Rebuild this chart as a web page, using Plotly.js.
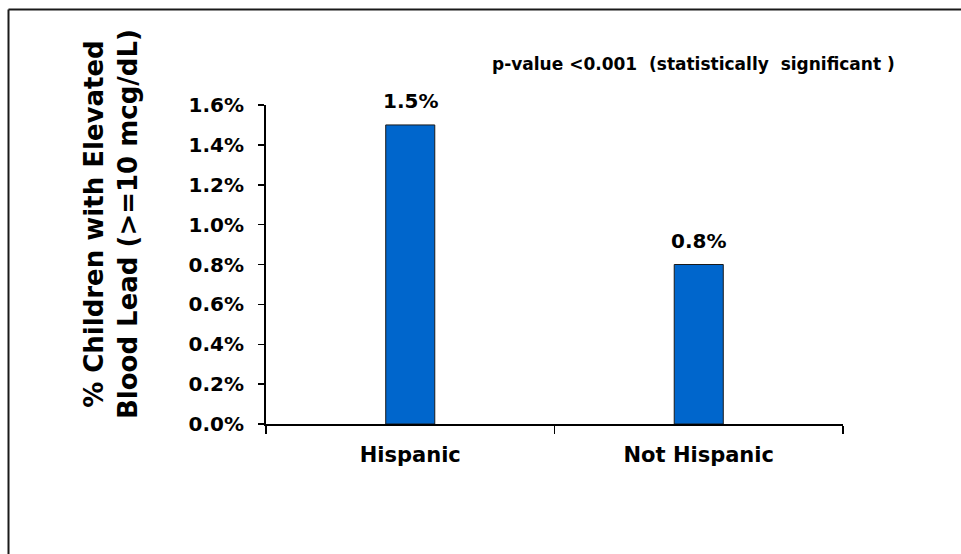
<!DOCTYPE html>
<html>
<head>
<meta charset="utf-8">
<script src="https://cdn.plot.ly/plotly-3.0.1.min.js"></script>
<style>
  html, body { margin: 0; padding: 0; background: #ffffff; }
  #chart { width: 961px; height: 554px; }
</style>
</head>
<body>
<div id="chart"></div>
<script>
// Blood lead results by ethnicity
const categories = ['Hispanic', 'Not Hispanic'];
const pctElevated = [1.5, 0.8];
const yTickVals = [0, 0.2, 0.4, 0.6, 0.8, 1.0, 1.2, 1.4, 1.6];
const yTickText = ['0.0%', '0.2%', '0.4%', '0.6%', '0.8%', '1.0%', '1.2%', '1.4%', '1.6%'];
const yTitleLines = ['% Children with Elevated', 'Blood Lead (&gt;=10 mcg/dL)'];
const noteText = 'p-value &lt;0.001  (statistically  significant )';

const W = 961, H = 554;
const M = { l: 266, r: 118, t: 105, b: 130 };
const plotW = W - M.l - M.r;
const plotH = H - M.t - M.b;
// pixel position -> paper coordinates
const px = x => (x - M.l) / plotW;
const py = y => (H - M.b - y) / plotH;

const FONT = 'DejaVu Sans, Arial, sans-serif';

const bars = {
  type: 'bar',
  x: categories,
  y: pctElevated,
  marker: { color: '#0066CC', line: { color: '#1a1a1a', width: 1 } },
  hoverinfo: 'x+y'
};

const valueLabels = categories.map((c, i) => ({
  xref: 'x', yref: 'y',
  x: c, y: pctElevated[i],
  text: pctElevated[i].toFixed(1) + '%',
  showarrow: false,
  xanchor: 'center', yanchor: 'bottom',
  yshift: 10,
  font: { family: FONT, size: 20, weight: 'bold', color: '#000' }
}));

const annotations = valueLabels.concat([
  {
    xref: 'paper', yref: 'paper',
    x: px(111), y: py(224),
    text: yTitleLines.join('<br>'),
    textangle: -90,
    showarrow: false,
    xanchor: 'center', yanchor: 'middle',
    font: { family: FONT, size: 26, weight: 'bold', color: '#000' }
  },
  {
    xref: 'paper', yref: 'paper',
    x: px(693), y: py(64),
    text: noteText,
    showarrow: false,
    xanchor: 'center', yanchor: 'middle',
    font: { family: FONT, size: 17, weight: 'bold', color: '#000' }
  }
]);

// frame around the figure: only its left and top edges fall inside the page
const frameLine = { color: '#1a1a1a', width: 2 };

const layout = {
  width: W, height: H,
  margin: M,
  paper_bgcolor: '#ffffff',
  plot_bgcolor: '#ffffff',
  showlegend: false,
  bargap: 0.83,
  font: { family: FONT, color: '#000' },
  xaxis: {
    type: 'category',
    showline: true, linecolor: '#000', linewidth: 2,
    ticks: 'outside', tickson: 'boundaries', ticklen: 8, tickwidth: 1.5, tickcolor: '#000',
    showgrid: false, zeroline: false,
    tickfont: { family: FONT, size: 21, weight: 'bold', color: '#000' },
    ticklabelstandoff: 11
  },
  yaxis: {
    range: [0, 1.6],
    tickvals: yTickVals, ticktext: yTickText,
    showline: true, linecolor: '#000', linewidth: 2,
    ticks: 'outside', ticklen: 6, tickwidth: 1.5, tickcolor: '#000',
    showgrid: false, zeroline: false,
    tickfont: { family: FONT, size: 20, weight: 'bold', color: '#000' },
    ticklabelstandoff: 10
  },
  shapes: [
    { type: 'line', xref: 'paper', yref: 'paper',
      x0: px(8.5), x1: px(8.5), y0: py(9.5), y1: py(554), line: frameLine, layer: 'below' },
    { type: 'line', xref: 'paper', yref: 'paper',
      x0: px(8.5), x1: px(961), y0: py(9.5), y1: py(9.5), line: frameLine, layer: 'below' }
  ],
  annotations: annotations
};

Plotly.newPlot('chart', [bars], layout, { displayModeBar: false, staticPlot: true });
</script>
</body>
</html>
